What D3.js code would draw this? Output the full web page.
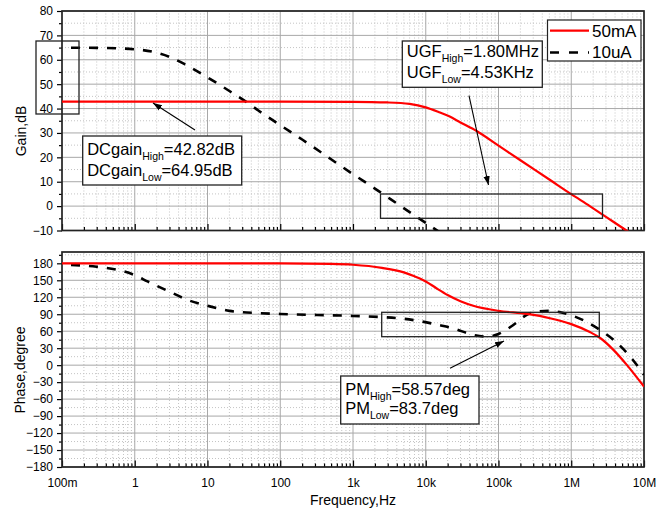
<!DOCTYPE html>
<html>
<head>
<meta charset="utf-8">
<script src="https://cdn.jsdelivr.net/npm/d3@7"></script>
<style>
  body { margin: 0; background: #fff; }
  svg { display: block; font-family: "Liberation Sans", Arial, sans-serif; }
</style>
</head>
<body>
<div id="chart"></div>
<script>
const freqGain50 = [0.1, 100, 1000, 3000, 6000, 10000, 15000, 21000, 30000, 50000, 100000, 200000, 500000, 1e6, 1.8e6, 3e6, 5.6e6, 7e6];
const gain50 = [42.82, 42.82, 42.75, 42.5, 41.9, 40.5, 38.6, 36.8, 34.3, 30.8, 24.8, 18.8, 10.9, 4.9, 0, -4.4, -9.8, -11.7];

const freqGain10 = [0.1, 0.3, 1, 2, 3, 5, 10, 20, 35, 50, 100, 200, 350, 500, 1000, 2000, 4530, 10000, 20000];
const gain10 = [64.95, 64.9, 64.3, 62.9, 61.2, 58.0, 52.8, 47.2, 42.5, 39.2, 33.2, 27.3, 22.4, 19.2, 13.1, 7.2, 0.0, -6.9, -12.9];

const freqPhase50 = [0.1, 100, 500, 1000, 2500, 5000, 7000, 10000, 14000, 20000, 30000, 45000, 100000, 245000, 510000, 1e6, 1.8e6, 2.5e6, 3.8e6, 5.8e6, 1e7];
const phase50 = [180, 180, 179, 177.5, 172, 164, 157, 148, 136, 124, 113, 105, 96, 90.5, 83, 72.5, 58.6, 48, 27, 0.5, -38];

const freqPhase10 = [0.1, 0.3, 1, 1.5, 3, 5.4, 10, 20, 50, 100, 1000, 2500, 5000, 9000, 15000, 24000, 45000, 70000, 100000, 160000, 245000, 340000, 510000, 870000, 1.6e6, 2.5e6, 3.8e6, 7e6, 1e7];
const phase10 = [177.5, 174, 159, 148, 130, 115, 105, 96, 92, 90.5, 87, 85, 82, 77, 71, 65, 53.5, 50.5, 55, 71, 89, 94.6, 96, 90.5, 77, 62, 45, 9.5, -17];

const freqTicks = [0.1, 1, 10, 100, 1000, 10000, 100000, 1e6, 1e7];
const freqLabels = ['100m', '1', '10', '100', '1k', '10k', '100k', '1M', '10M'];
const gainTicks = d3.range(-10, 81, 10);
const phaseTicks = d3.range(-180, 181, 30);

const seriesNames = ['50mA', '10uA'];

const width = 670, height = 514;
const svg = d3.select('#chart').append('svg')
  .attr('width', width)
  .attr('height', height);

const defs = svg.append('defs');
defs.append('marker')
  .attr('id', 'arrow')
  .attr('viewBox', '0 0 10 10')
  .attr('refX', 10).attr('refY', 5)
  .attr('markerWidth', 9).attr('markerHeight', 9)
  .attr('markerUnits', 'userSpaceOnUse')
  .attr('orient', 'auto')
  .append('path')
  .attr('d', 'M0,1.5 L10,5 L0,8.5 Z')
  .attr('fill', '#000');

const x = d3.scaleLog().domain([0.1, 1e7]).range([62, 644]);
const yGain = d3.scaleLinear().domain([-10, 80]).range([230.5, 11]);
const yPhase = d3.scaleLinear().domain([-180, 200]).range([467, 252]);

const minorFreq = [];
for (let e = -1; e < 7; e++) {
  for (let k = 2; k <= 9; k++) minorFreq.push(k * Math.pow(10, e));
}

function panel(id, y, majors, minorStep, showXLabels) {
  const g = svg.append('g');
  const [y0, y1] = y.domain();
  const minorY = d3.range(y0, y1 + 0.01, minorStep).filter(v => !majors.includes(v));

  defs.append('clipPath').attr('id', id)
    .append('rect')
    .attr('x', x.range()[0]).attr('y', y.range()[1])
    .attr('width', x.range()[1] - x.range()[0])
    .attr('height', y.range()[0] - y.range()[1]);

  // minor grid
  g.append('g').selectAll('line').data(minorFreq).enter().append('line')
    .attr('x1', d => x(d)).attr('x2', d => x(d))
    .attr('y1', y.range()[0]).attr('y2', y.range()[1])
    .attr('stroke', '#c4c4c4').attr('stroke-dasharray', '1,2');
  g.append('g').selectAll('line').data(minorY).enter().append('line')
    .attr('x1', x.range()[0]).attr('x2', x.range()[1])
    .attr('y1', d => y(d)).attr('y2', d => y(d))
    .attr('stroke', '#c4c4c4').attr('stroke-dasharray', '1,2');

  // major grid
  g.append('g').selectAll('line').data(freqTicks.slice(1, -1)).enter().append('line')
    .attr('x1', d => x(d)).attr('x2', d => x(d))
    .attr('y1', y.range()[0]).attr('y2', y.range()[1])
    .attr('stroke', '#a8a8a8');
  g.append('g').selectAll('line').data(majors).enter().append('line')
    .attr('x1', x.range()[0]).attr('x2', x.range()[1])
    .attr('y1', d => y(d)).attr('y2', d => y(d))
    .attr('stroke', '#a8a8a8');

  const left = g.append('g').attr('transform', `translate(${x.range()[0]},0)`)
    .call(d3.axisLeft(y).tickValues(majors).tickSize(5).tickPadding(4).tickFormat(d3.format('d')));
  left.append('g')
    .call(d3.axisLeft(y).tickValues(minorY).tickSize(3).tickFormat(''));

  const bottom = g.append('g').attr('transform', `translate(0,${y.range()[0]})`)
    .call(d3.axisBottom(x).tickValues(freqTicks).tickSizeInner(-6.5).tickSizeOuter(0).tickPadding(10)
      .tickFormat((d, i) => showXLabels ? freqLabels[i] : ''));
  bottom.append('g')
    .call(d3.axisBottom(x).tickValues(minorFreq).tickSizeInner(-3.5).tickSizeOuter(0).tickFormat(''));

  [left, bottom].forEach(a => {
    a.selectAll('.domain').remove();
    a.selectAll('line').attr('stroke', '#000').attr('stroke-width', 1.2);
    a.selectAll('text').attr('font-size', 12).attr('fill', '#000')
      .attr('font-family', '"Liberation Sans", Arial, sans-serif');
  });
  bottom.selectAll('text').attr('dy', '0.85em');

  g.append('rect')
    .attr('x', x.range()[0]).attr('y', y.range()[1])
    .attr('width', x.range()[1] - x.range()[0])
    .attr('height', y.range()[0] - y.range()[1])
    .attr('fill', 'none').attr('stroke', '#222').attr('stroke-width', 1.7);

  return g;
}

const gainPanel = panel('clipGain', yGain, gainTicks, 5, false);
const phasePanel = panel('clipPhase', yPhase, phaseTicks, 15, true);

const curve = (fs, vs, y) => d3.line()
  .x((d, i) => x(fs[i]))
  .y(d => y(d))
  .curve(d3.curveMonotoneX)(vs);

function drawSeries(g, clip, y, f10, v10, f50, v50) {
  const c = g.append('g').attr('clip-path', `url(#${clip})`);
  c.append('path')
    .attr('d', curve(f10, v10, y))
    .attr('fill', 'none').attr('stroke', '#000')
    .attr('stroke-width', 2.6).attr('stroke-dasharray', '9,9').attr('stroke-dashoffset', 9);
  c.append('path')
    .attr('d', curve(f50, v50, y))
    .attr('fill', 'none').attr('stroke', '#ff0000').attr('stroke-width', 2.2);
}

drawSeries(gainPanel, 'clipGain', yGain, freqGain10, gain10, freqGain50, gain50);
drawSeries(phasePanel, 'clipPhase', yPhase, freqPhase10, phase10, freqPhase50, phase50);

// axis titles
svg.append('text')
  .attr('transform', 'translate(26,131) rotate(-90)')
  .attr('text-anchor', 'middle').attr('font-size', 14).text('Gain,dB');
svg.append('text')
  .attr('transform', 'translate(25,370) rotate(-90)')
  .attr('text-anchor', 'middle').attr('font-size', 14).text('Phase,degree');
svg.append('text')
  .attr('x', 353).attr('y', 505)
  .attr('text-anchor', 'middle').attr('font-size', 14).text('Frequency,Hz');

// legend
const legend = svg.append('g');
legend.append('rect')
  .attr('x', 547.5).attr('y', 20).attr('width', 93.5).attr('height', 41)
  .attr('fill', '#fff').attr('stroke', '#222').attr('stroke-width', 1.2);
legend.append('line')
  .attr('x1', 550).attr('x2', 589).attr('y1', 30.7).attr('y2', 30.7)
  .attr('stroke', '#ff0000').attr('stroke-width', 2.2);
legend.append('line')
  .attr('x1', 550).attr('x2', 589).attr('y1', 52.5).attr('y2', 52.5)
  .attr('stroke', '#000').attr('stroke-width', 2.6).attr('stroke-dasharray', '9,10');
legend.selectAll('text.name').data(seriesNames).enter().append('text')
  .attr('x', 592).attr('y', (d, i) => 36.7 + i * 21)
  .attr('font-size', 17).text(d => d);

// annotation boxes
function note(x0, y0, w, h, lines, size, lineY) {
  const g = svg.append('g');
  g.append('rect')
    .attr('x', x0).attr('y', y0).attr('width', w).attr('height', h)
    .attr('fill', '#fff').attr('stroke', '#222').attr('stroke-width', 1.3);
  lines.forEach((l, i) => {
    const t = g.append('text').attr('x', x0 + 4.5).attr('y', lineY[i]).attr('font-size', size);
    t.append('tspan').text(l[0]);
    t.append('tspan').attr('font-size', 10.5).attr('dy', 5).text(l[1]);
    t.append('tspan').attr('dy', -5).text(l[2]);
  });
}

function box(x0, y0, x1, y1) {
  svg.append('rect')
    .attr('x', x0).attr('y', y0).attr('width', x1 - x0).attr('height', y1 - y0)
    .attr('fill', 'none').attr('stroke', '#222').attr('stroke-width', 1.3);
}

function arrow(x0, y0, x1, y1) {
  svg.append('line')
    .attr('x1', x0).attr('y1', y0).attr('x2', x1).attr('y2', y1)
    .attr('stroke', '#000').attr('stroke-width', 1.1)
    .attr('marker-end', 'url(#arrow)');
}

box(36, 41, 79, 114);
box(380.5, 194, 602.5, 218.3);
box(381.7, 312.3, 599.3, 336.7);

arrow(195, 130, 153, 103);
arrow(469, 95.7, 488.5, 185);
arrow(450, 368.3, 504, 341);

note(82.7, 136, 159, 49,
  [['DCgain', 'High', '=42.82dB'], ['DCgain', 'Low', '=64.95dB']], 16.5, [155, 175.5]);
note(402.3, 41, 140, 46.3,
  [['UGF', 'High', '=1.80MHz'], ['UGF', 'Low', '=4.53KHz']], 16.5, [56.5, 78]);
note(340.7, 376, 138.3, 48,
  [['PM', 'High', '=58.57deg'], ['PM', 'Low', '=83.7deg']], 16.5, [394.5, 414]);
</script>
</body>
</html>
